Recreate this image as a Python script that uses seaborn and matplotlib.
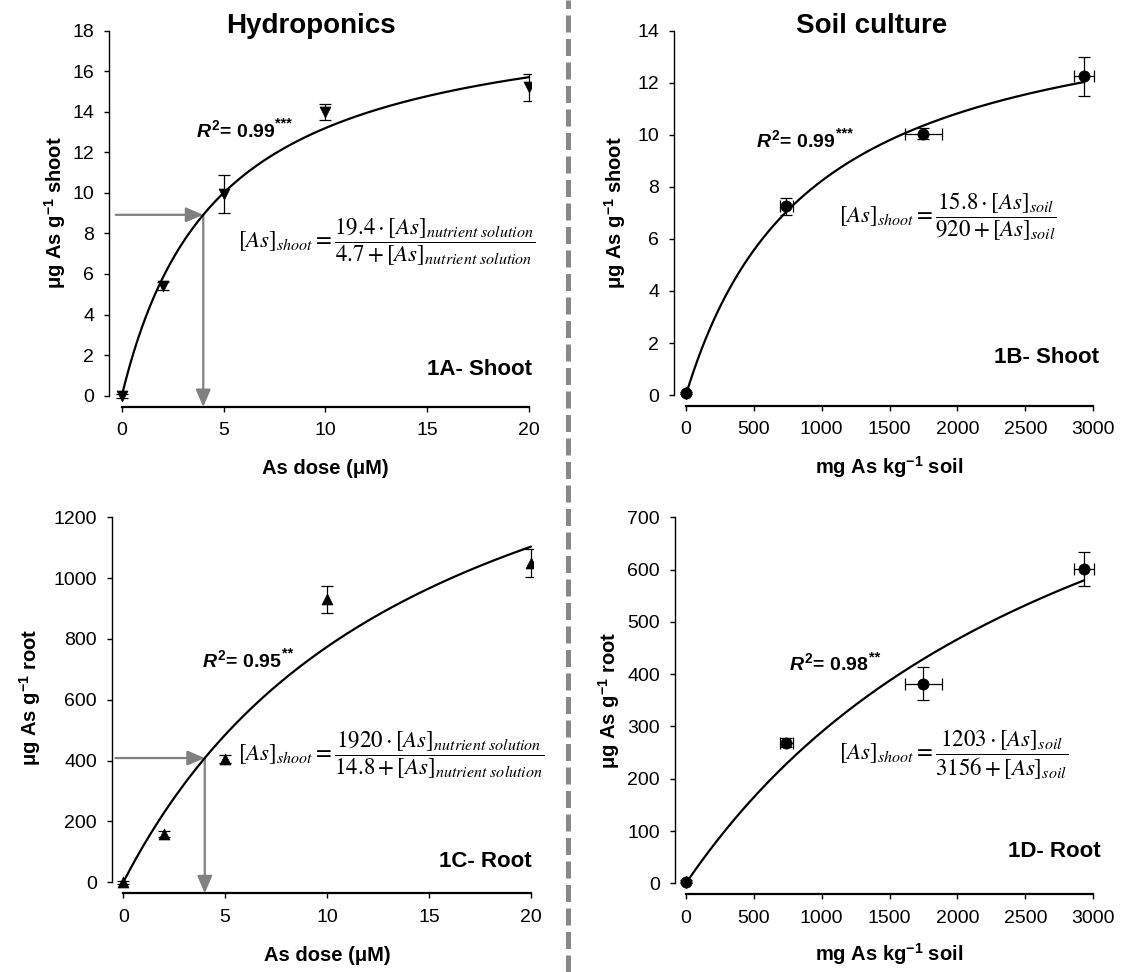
import numpy as np
import pandas as pd
import matplotlib
matplotlib.use("Agg")
import matplotlib.pyplot as plt
from matplotlib.lines import Line2D
import seaborn as sns

# ---------------- data ----------------
hydro_dose = [0, 2, 5, 10, 20]                 # µM
hydro_shoot = [0.0, 5.4, 9.95, 14.0, 15.2]     # µg As g-1 shoot
hydro_shoot_err = [0.1, 0.2, 0.95, 0.4, 0.65]
hydro_root = [0, 160, 405, 930, 1050]          # µg As g-1 root
hydro_root_err = [5, 10, 12, 43, 47]

soil_dose = [0, 741, 1748, 2934]               # mg As kg-1 soil
soil_dose_err = [0, 45, 136, 75]
soil_shoot = [0.08, 7.25, 10.05, 12.25]
soil_shoot_err = [0.05, 0.32, 0.2, 0.75]
soil_root = [3, 269, 382, 601]
soil_root_err = [3, 8, 32, 32]

# Michaelis-Menten fit parameters printed on the chart
fit_A = (19.4, 4.7)
fit_B = (15.8, 920)
fit_C = (1920, 14.8)
fit_D = (1203, 3156)
read_dose = 4

r2_values = ["0.99", "0.99", "0.95", "0.98"]
r2_stars = ["***", "***", "**", "**"]
panel_labels = ["1A- Shoot", "1B- Shoot", "1C- Root", "1D- Root"]

# ---------------- style ----------------
sns.set_style("ticks")
plt.rcParams["font.family"] = ["Liberation Sans", "DejaVu Sans"]
plt.rcParams["mathtext.fontset"] = "stix"
plt.rcParams["mathtext.rm"] = "Liberation Sans:bold"
plt.rcParams["mathtext.it"] = "Liberation Sans:italic:bold"
plt.rcParams["mathtext.bf"] = "Liberation Sans:bold"
plt.rcParams["text.color"] = "black"
plt.rcParams["axes.edgecolor"] = "black"
plt.rcParams["xtick.color"] = "black"
plt.rcParams["ytick.color"] = "black"

W, H = 1121, 972
fig = plt.figure(figsize=(W / 100, H / 100), dpi=100)


def rect(l, r, t, b):
    return [l / W, 1 - b / H, (r - l) / W, (b - t) / H]


def fxy(x, y):
    return x / W, 1 - y / H


def mm(x, vmax, km):
    x = np.asarray(x, dtype=float)
    return vmax * x / (km + x)


panels = [
    dict(rect=rect(109, 531, 30.7, 407), xlim=(-0.63, 20.1), ylim=(-0.56, 18),
         xticks=np.arange(0, 21, 5), yticks=np.arange(0, 19, 2),
         x=hydro_dose, y=hydro_shoot, yerr=hydro_shoot_err, xerr=None,
         fit=fit_A, marker="v", arrow=True, arrow_x0=-0.3),
    dict(rect=rect(673.8, 1096, 30.7, 406), xlim=(-89, 3021), ylim=(-0.42, 14),
         xticks=np.arange(0, 3001, 500), yticks=np.arange(0, 15, 2),
         x=soil_dose, y=soil_shoot, yerr=soil_shoot_err, xerr=soil_dose_err,
         fit=fit_B, marker="o", arrow=False),
    dict(rect=rect(111.8, 533, 517.3, 893.3), xlim=(-0.56, 20.1), ylim=(-36.2, 1200),
         xticks=np.arange(0, 21, 5), yticks=np.arange(0, 1201, 200),
         x=hydro_dose, y=hydro_root, yerr=hydro_root_err, xerr=None,
         fit=fit_C, marker="^", arrow=True, arrow_x0=-0.38),
    dict(rect=rect(674.5, 1096, 517.3, 894.3), xlim=(-84, 3021), ylim=(-21, 700),
         xticks=np.arange(0, 3001, 500), yticks=np.arange(0, 701, 100),
         x=soil_dose, y=soil_root, yerr=soil_root_err, xerr=soil_dose_err,
         fit=fit_D, marker="o", arrow=False),
]

axes = []
for p in panels:
    ax = fig.add_axes(p["rect"])
    axes.append(ax)
    ax.set_xlim(*p["xlim"])
    ax.set_ylim(*p["ylim"])
    # fitted curve
    xx = np.linspace(0, max(p["x"]), 300)
    sns.lineplot(x=xx, y=mm(xx, *p["fit"]), ax=ax, color="black", lw=1.6, zorder=3)
    # error bars
    ax.errorbar(p["x"], p["y"], yerr=p["yerr"], xerr=p["xerr"], fmt="none",
                ecolor="black", elinewidth=0.9, capsize=4.3, capthick=0.9, zorder=4)
    # markers
    df = pd.DataFrame({"x": p["x"], "y": p["y"]})
    size = 65 if p["marker"] == "o" else 62
    sns.scatterplot(data=df, x="x", y="y", ax=ax, marker=p["marker"], s=size,
                    color="black", edgecolor="black", linewidth=0.5, zorder=5)
    # grey read-off arrows
    if p["arrow"]:
        y4 = float(mm(read_dose, *p["fit"]))
        props = dict(arrowstyle="-|>,head_length=0.7,head_width=0.3",
                     color="#808080", lw=1.6, shrinkA=0, shrinkB=0,
                     mutation_scale=15)
        ax.annotate("", xy=(read_dose, y4), xytext=(p["arrow_x0"], y4),
                    arrowprops=props, zorder=2)
        ax.annotate("", xy=(read_dose, p["ylim"][0]), xytext=(read_dose, y4),
                    arrowprops=props, zorder=2)
    ax.set_xticks(p["xticks"])
    ax.set_yticks(p["yticks"])
    ax.set_xlabel("")
    ax.set_ylabel("")
    ax.spines["top"].set_visible(False)
    ax.spines["right"].set_visible(False)
    ax.spines["left"].set_bounds(0, p["yticks"][-1])
    ax.spines["bottom"].set_bounds(0, p["xticks"][-1])
    ax.spines["left"].set_linewidth(1.0)
    ax.spines["bottom"].set_linewidth(1.6)
    ax.tick_params(axis="y", direction="out", length=3.6, width=1.0,
                   labelsize=14, pad=7)
    ax.tick_params(axis="x", direction="out", length=3.6, width=1.0,
                   labelsize=14, pad=7.5)
    ax.set_facecolor("none")

# ---------------- texts ----------------
title_kw = dict(fontsize=20, fontweight="bold", ha="center", va="baseline")
fig.text(*fxy(310.7, 33.3), "Hydroponics", **title_kw)
fig.text(*fxy(871.3, 33.3), "Soil culture", **title_kw)

lab_kw = dict(fontsize=14.5, fontweight="bold", math_fontfamily="custom")
fig.text(*fxy(325, 474), "As dose (μM)", ha="center", va="baseline", **lab_kw)
fig.text(*fxy(327, 961), "As dose (μM)", ha="center", va="baseline", **lab_kw)
fig.text(*fxy(889, 474), "mg As kg$^{-1}$ soil", ha="center", va="baseline", **lab_kw)
fig.text(*fxy(889, 961), "mg As kg$^{-1}$ soil", ha="center", va="baseline", **lab_kw)
fig.text(*fxy(55, 213), "μg As g$^{-1}$ shoot", rotation=90, ha="center", va="center", **lab_kw)
fig.text(*fxy(615.5, 213), "μg As g$^{-1}$ shoot", rotation=90, ha="center", va="center", **lab_kw)
fig.text(*fxy(30, 697), "μg As g$^{-1}$ root", rotation=90, ha="center", va="center", **lab_kw)
fig.text(*fxy(609, 700), "μg As g$^{-1}$ root", rotation=90, ha="center", va="center", **lab_kw)

# panel labels
pl_pos = [(532, 375), (1098.5, 363.3), (532, 866.7), (1101, 856.7)]
for (x, y), t in zip(pl_pos, panel_labels):
    fig.text(*fxy(x, y), t, fontsize=16, fontweight="bold", ha="right", va="baseline")

# R² labels (stars as a small raised annotation right after the value)
r2_pos = [(195.7, 136.7), (756, 146.7), (201.8, 666.7), (789, 670)]
for ax, (x, y), v, s in zip(axes, r2_pos, r2_values, r2_stars):
    t = fig.text(*fxy(x, y), "$R^{2}$= " + v, fontsize=14, fontweight="bold",
                 ha="left", va="baseline", math_fontfamily="custom")
    ax.annotate(s, xy=(1.0, 1.0), xycoords=t, xytext=(0.3, 1.5),
                textcoords="offset points", ha="left", va="top",
                fontsize=10.5, fontweight="bold", annotation_clip=False)

# equations
eq_hydro = (r"$[As]_{shoot} = \dfrac{%s\cdot[As]_{nutrient\ solution}}"
            r"{%s+[As]_{nutrient\ solution}}$")
eq_soil = r"$[As]_{shoot} = \dfrac{%s\cdot[As]_{soil}}{%s+[As]_{soil}}$"
eqs = [
    (eq_hydro % ("19.4", "4.7"), (238, 247.5)),
    (eq_soil % ("15.8", "920"), (839, 222)),
    (eq_hydro % ("1920", "14.8"), (238, 760)),
    (eq_soil % ("1203", "3156"), (839, 759)),
]
for t, (x, y) in eqs:
    fig.text(*fxy(x, y), t, fontsize=16.5, ha="left", va="baseline",
             math_fontfamily="stix", color="black")

# dashed divider
fig.add_artist(Line2D([568 / W, 568 / W], [0, 1], transform=fig.transFigure,
                      color="#888888", lw=3.6, dashes=(3.4, 1.3)))

fig.savefig("out.png", dpi=100)
